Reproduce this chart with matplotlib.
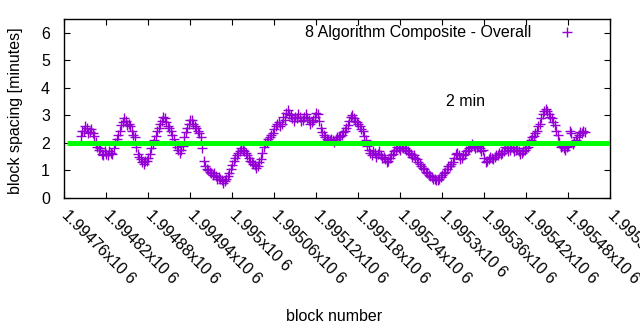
import numpy as np
import matplotlib
matplotlib.use("Agg")
import matplotlib.pyplot as plt
from matplotlib.ticker import FixedLocator, FuncFormatter

plt.rcParams['font.family'] = ['Liberation Sans', 'DejaVu Sans']

# block spacing (minutes), consecutive samples
spacing = [
    2.25, 2.45, 2.55, 2.40, 2.35, 2.05, 1.75, 1.60, 1.70, 1.55,
    1.65, 1.80, 2.15, 2.45, 2.75, 2.80, 2.70, 2.45, 2.20, 1.60,
    1.40, 1.25, 1.35, 1.60, 1.95, 2.25, 2.55, 2.80, 2.90, 2.60,
    2.45, 2.15, 1.85, 1.65, 1.90, 2.40, 2.70, 2.85, 2.60, 2.45,
    2.20, 1.35, 1.05, 0.95, 0.85, 0.80, 0.75, 0.65, 0.60, 0.80,
    1.05, 1.35, 1.55, 1.70, 1.75, 1.65, 1.45, 1.30, 1.20, 1.15,
    1.40, 1.85, 2.05, 2.20, 2.35, 2.60, 2.75, 2.70, 2.85, 3.20,
    3.00, 2.80, 2.90, 2.95, 2.85, 3.05, 2.85, 2.75, 2.95, 3.05,
    2.55, 2.30, 2.15, 2.10, 2.10, 2.15, 2.20, 2.30, 2.45, 2.65,
    2.95, 2.90, 2.75, 2.60, 2.45, 2.10, 1.75, 1.55, 1.65, 1.60,
    1.55, 1.50, 1.30, 1.45, 1.60, 1.75, 1.80, 1.85, 1.80, 1.70,
    1.60, 1.55, 1.40, 1.25, 1.10, 0.95, 0.85, 0.75, 0.70, 0.65,
    0.75, 0.90, 1.05, 1.15, 1.30, 1.60, 1.55, 1.45, 1.60, 1.75,
    1.85, 1.90, 1.85, 1.80, 1.75, 1.30, 1.40, 1.45, 1.50, 1.55,
    1.60, 1.70, 1.80, 1.75, 1.80, 1.75, 1.70, 1.65, 1.75, 1.85,
    2.10, 2.25, 2.45, 2.70, 3.05, 3.25, 3.05, 2.90, 2.65, 2.30,
    1.85, 1.80, 1.85, 2.45, 1.95, 2.10, 2.30, 2.35, 2.40,
]
# in-between samples (the other edge of the scattered band)
spacing_mid = [
    2.45, 2.60, 2.35, 2.50, 2.25, 1.85, 1.80, 1.55, 1.60, 1.70,
    1.60, 2.00, 2.30, 2.65, 2.90, 2.65, 2.60, 2.30, 1.85, 1.50,
    1.30, 1.35, 1.45, 1.80, 2.10, 2.45, 2.70, 2.95, 2.75, 2.55,
    2.30, 1.95, 1.75, 1.75, 2.20, 2.55, 2.85, 2.70, 2.55, 2.35,
    1.80, 1.15, 1.00, 0.90, 0.90, 0.70, 0.70, 0.55, 0.70, 0.90,
    1.20, 1.45, 1.65, 1.80, 1.70, 1.55, 1.35, 1.25, 1.10, 1.30,
    1.65, 2.00, 2.15, 2.30, 2.50, 2.70, 2.60, 2.95, 3.10, 3.05,
    2.90, 2.95, 3.05, 2.80, 2.95, 2.90, 2.70, 2.85, 3.10, 2.80,
    2.40, 2.20, 2.10, 2.15, 2.05, 2.20, 2.25, 2.40, 2.55, 2.80,
    3.00, 2.80, 2.70, 2.50, 2.25, 1.90, 1.65, 1.70, 1.50, 1.70,
    1.45, 1.40, 1.35, 1.55, 1.70, 1.85, 1.75, 1.80, 1.75, 1.65,
    1.50, 1.45, 1.30, 1.15, 1.05, 0.90, 0.80, 0.70, 0.65, 0.70,
    0.85, 0.95, 1.15, 1.25, 1.45, 1.65, 1.40, 1.55, 1.70, 1.80,
    1.95, 1.80, 1.90, 1.70, 1.45, 1.35, 1.50, 1.40, 1.55, 1.65,
    1.65, 1.85, 1.70, 1.85, 1.70, 1.80, 1.60, 1.70, 1.80, 2.00,
    2.20, 2.35, 2.60, 2.90, 3.15, 3.15, 2.95, 2.75, 2.45, 2.05,
    1.90, 1.75, 1.90, 2.35, 2.05, 2.20, 2.40, 2.45,
]
first_block = 1994784
last_block = 1995504
blocks = np.linspace(first_block, last_block, len(spacing))
blocks_mid = (blocks[:-1] + blocks[1:]) / 2

target_x = [1994764, 1995540]
target_y = [2, 2]

xticks = list(range(1994760, 1995541, 60))
yticks = [0, 1, 2, 3, 4, 5, 6]

FS = 11.5
fig = plt.figure(figsize=(6.4, 3.3), dpi=100)
ax = fig.add_axes([64/640, 1-198/330, 546/640, 179/330])

style = dict(linestyle='none', marker='+', markersize=7, markeredgewidth=1.0,
             color='#9400D3', zorder=2)
ax.plot(blocks, spacing, label='8 Algorithm Composite - Overall', **style)
ax.plot(blocks_mid, spacing_mid, **style)
ax.plot(target_x, target_y, color='#00FF00', linewidth=3.6, zorder=3,
        solid_capstyle='butt')

ax.set_xlim(1994760, 1995540)
ax.set_ylim(0, 6.5)
ax.xaxis.set_major_locator(FixedLocator(xticks))
ax.yaxis.set_major_locator(FixedLocator(yticks))
ax.xaxis.set_major_formatter(FuncFormatter(lambda v, p: '{:g}x10 6'.format(round(v/1e6, 5))))
ax.tick_params(direction='in', length=4, width=0.8, top=True, right=True,
               labelsize=FS, colors='black')
ax.tick_params(axis='y', pad=10)
ax.tick_params(axis='x', pad=11)
for lab in ax.get_xticklabels():
    lab.set_rotation(-45)
    lab.set_ha('left')
    lab.set_va('center')
    lab.set_rotation_mode('anchor')
for s in ax.spines.values():
    s.set_linewidth(1.0)

ax.set_xlabel('block number', fontsize=FS)
ax.xaxis.set_label_coords(0.495, -0.62)
ax.set_ylabel('block spacing [minutes]', fontsize=FS)
ax.yaxis.set_label_coords(-0.075, 0.49)

ax.text(1995306, 3.5, '2 min', fontsize=FS, ha='left', va='center')

ax.legend(loc='upper right', bbox_to_anchor=(0.962, 1.0), frameon=False,
          markerfirst=False, handlelength=2.0, handletextpad=1.25,
          borderaxespad=0, fontsize=FS)

fig.savefig('out.png', dpi=100)
